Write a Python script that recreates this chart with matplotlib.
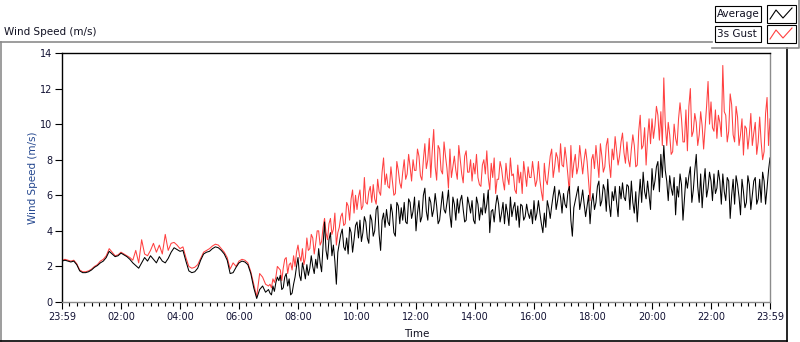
import matplotlib
matplotlib.use('Agg')
import matplotlib.pyplot as plt
from matplotlib.ticker import MultipleLocator

# hours since 23:59, sampled every 6 minutes
hours = [i / 10 for i in range(241)]

average = [
    2.3, 2.35, 2.3, 2.25, 2.3, 2.1, 1.75, 1.65, 1.65, 1.7,
    1.8, 1.95, 2.05, 2.2, 2.3, 2.5, 2.85, 2.7, 2.55, 2.6,
    2.75, 2.65, 2.55, 2.4, 2.2, 2.05, 1.9, 2.2, 2.5, 2.3,
    2.6, 2.4, 2.2, 2.55, 2.3, 2.2, 2.45, 2.8, 3.05, 2.95,
    2.85, 2.9, 2.3, 1.75, 1.65, 1.7, 1.9, 2.35, 2.7, 2.8,
    2.85, 3.0, 3.1, 3.05, 2.9, 2.7, 2.35, 1.6, 1.65, 1.95,
    2.2, 2.3, 2.25, 2.1, 1.6, 0.8, 0.2, 0.7, 0.9, 0.55,
    0.7, 0.4, 0.6, 1.4, 1.5, 0.8, 1.6, 1.3, 0.5, 1.4,
    2.5, 1.2, 1.8, 2.1, 1.9, 2.0, 2.4, 3.0, 1.7, 4.5,
    2.4, 3.9, 3.2, 1.0, 3.3, 4.1, 2.9, 2.7, 3.9, 3.5,
    4.5, 4.6, 3.9, 4.5, 3.3, 4.6, 4.0, 5.4, 2.9, 5.0,
    5.2, 4.3, 5.0, 3.7, 5.4, 5.3, 5.6, 4.4, 5.6, 5.1,
    4.0, 5.7, 4.8, 6.4, 4.6, 5.6, 5.2, 5.4, 4.6, 6.2,
    5.0, 6.3, 4.2, 5.5, 5.8, 5.7, 5.2, 4.6, 5.5, 5.7,
    4.4, 5.5, 5.3, 6.1, 5.5, 3.9, 5.2, 5.4, 5.5, 5.0,
    4.4, 5.0, 5.9, 5.3, 4.6, 4.2, 5.4, 4.8, 5.0, 5.2,
    5.7, 5.0, 5.0, 3.9, 4.2, 5.3, 5.4, 6.5, 5.7, 5.9,
    6.1, 5.3, 6.5, 3.7, 5.7, 6.5, 5.7, 5.5, 5.4, 4.4,
    6.1, 5.6, 6.8, 5.7, 6.3, 6.9, 4.8, 5.7, 5.6, 6.5,
    6.7, 5.7, 6.5, 6.8, 5.0, 4.5, 6.9, 7.3, 5.8, 6.0,
    7.5, 6.8, 7.9, 8.3, 8.8, 6.8, 7.1, 6.0, 4.9, 5.9,
    6.6, 5.8, 6.4, 7.6, 6.3, 8.3, 5.6, 5.3, 7.5, 6.4,
    6.8, 7.2, 6.4, 6.8, 7.2, 5.7, 6.8, 6.0, 5.5, 6.6,
    4.9, 6.2, 5.6, 6.6, 6.0, 7.0, 5.8, 5.6, 6.8, 6.4,
    8.1,
]

gust = [
    2.35, 2.4, 2.35, 2.3, 2.35, 2.15, 1.8, 1.7, 1.7, 1.75,
    1.85, 2.0, 2.1, 2.3, 2.4, 2.6, 3.0, 2.8, 2.6, 2.65,
    2.8, 2.7, 2.6, 2.5, 2.35, 2.9, 2.2, 3.5, 2.7, 2.6,
    2.9, 3.3, 2.8, 3.2, 2.7, 3.8, 2.9, 3.3, 3.35, 3.2,
    3.0, 3.1, 2.5, 2.0, 1.9, 1.95, 2.1, 2.45, 2.8, 2.9,
    3.0, 3.15, 3.25, 3.2, 3.0, 2.8, 2.5, 1.85, 2.2, 2.0,
    2.3, 2.4, 2.35, 2.2, 1.7, 1.0, 0.3, 1.6, 1.4, 1.0,
    0.9, 0.8, 1.1, 2.0, 1.8, 1.9, 2.5, 2.1, 1.8, 2.0,
    3.2, 2.3, 2.1, 3.6, 3.0, 3.6, 3.3, 4.0, 3.4, 4.7,
    3.5, 4.7, 4.1, 3.2, 4.2, 5.0, 4.4, 5.4, 5.8, 5.0,
    5.2, 6.3, 5.4, 5.6, 6.2, 5.6, 5.8, 6.9, 6.0, 8.1,
    7.2, 6.4, 6.8, 6.1, 7.4, 6.4, 8.0, 7.2, 7.6, 8.0,
    7.4, 8.2, 6.85, 8.9, 8.0, 7.0, 9.7, 6.85, 8.6, 7.2,
    8.2, 6.4, 7.0, 8.2, 6.9, 8.0, 6.7, 8.5, 7.3, 6.8,
    7.2, 7.0, 6.5, 8.0, 8.5, 6.3, 7.0, 6.1, 6.9, 7.5,
    6.3, 7.0, 8.1, 7.2, 6.1, 6.7, 6.1, 7.2, 7.6, 7.0,
    7.2, 6.85, 6.85, 5.7, 6.85, 7.4, 8.6, 7.6, 8.1, 8.9,
    7.6, 8.0, 6.1, 7.0, 8.3, 7.6, 8.0, 8.0, 7.9, 5.7,
    8.3, 8.8, 7.0, 8.2, 7.6, 9.2, 7.0, 8.0, 8.5, 8.2,
    9.5, 7.8, 8.0, 8.6, 8.8, 7.7, 10.5, 8.8, 7.7, 10.3,
    10.3, 9.9, 10.5, 10.7, 12.6, 8.8, 9.4, 8.45, 9.2, 10.3,
    10.3, 9.0, 8.5, 12.0, 9.6, 10.1, 9.4, 9.9, 9.8, 12.4,
    11.25, 9.6, 9.2, 10.1, 13.3, 10.5, 9.6, 11.1, 9.0, 10.4,
    9.4, 8.26, 9.75, 9.4, 8.8, 10.1, 9.0, 9.0, 8.45, 11.5,
    10.3,
]

# extra readings between the 6-minute samples in the gusty part (07:05 .. 23:55)
mid_hours = [7.05 + i / 10 for i in range(170)]

average_mid = [
    0.5, 0.9, 1.1, 1.2, 0.7, 1.4, 0.9, 0.4, 1.0, 2.0,
    1.5, 2.2, 1.3, 1.5, 2.6, 1.6, 1.9, 2.2, 3.2, 2.9,
    3.5, 2.6, 2.3, 2.8, 3.8, 3.1, 3.6, 4.2, 2.8, 4.3,
    3.6, 3.4, 4.8, 3.6, 4.9, 3.7, 5.2, 3.8, 4.6, 4.2,
    4.5, 5.5, 3.9, 5.6, 4.4, 4.6, 4.5, 5.8, 4.7, 5.9,
    5.0, 4.5, 6.0, 5.1, 5.9, 4.8, 6.1, 4.4, 5.4, 5.2,
    5.6, 4.9, 5.9, 4.6, 5.0, 6.0, 4.5, 5.9, 5.0, 4.6,
    5.9, 4.6, 4.9, 5.0, 6.3, 5.1, 4.5, 6.0, 4.5, 5.6,
    5.5, 4.3, 4.8, 5.6, 5.4, 5.5, 4.6, 5.5, 4.7, 4.4,
    4.6, 5.7, 4.4, 5.0, 5.7, 4.7, 6.0, 5.2, 6.3, 5.0,
    5.5, 6.2, 4.6, 5.3, 6.1, 5.2, 6.3, 4.8, 6.0, 5.6,
    5.2, 6.5, 5.4, 6.6, 5.1, 5.5, 6.2, 6.5, 4.8, 5.8,
    5.9, 6.6, 5.2, 5.6, 6.2, 5.8, 5.6, 6.2, 6.8, 5.2,
    6.3, 7.6, 6.2, 7.0, 7.4, 5.7, 6.4, 7.0, 6.5, 7.2,
    4.6, 7.0, 7.1, 5.6, 7.4, 6.5, 7.2, 6.6, 5.9, 7.3,
    5.7, 6.1, 7.4, 5.5, 6.2, 7.0, 4.7, 6.9, 7.1, 5.9,
    6.9, 5.3, 7.1, 5.2, 6.8, 5.5, 6.9, 7.3, 5.5, 7.4,
]

gust_mid = [
    1.0, 1.3, 1.4, 1.9, 1.2, 2.4, 1.6, 2.2, 2.6, 2.8,
    2.6, 3.0, 2.5, 2.9, 3.8, 2.7, 4.0, 3.2, 4.2, 3.9,
    4.4, 3.8, 5.0, 3.9, 4.8, 4.3, 5.6, 4.6, 6.3, 6.0,
    5.9, 5.2, 7.0, 5.5, 6.5, 6.6, 5.5, 6.2, 7.3, 6.6,
    6.5, 7.6, 6.0, 7.9, 6.7, 7.3, 6.9, 8.3, 6.8, 7.4,
    8.6, 7.1, 8.0, 7.5, 9.2, 8.5, 7.6, 8.8, 7.4, 9.0,
    7.5, 8.6, 7.6, 7.4, 8.8, 7.2, 8.2, 7.3, 8.0, 7.8,
    8.3, 6.6, 7.7, 7.2, 7.0, 7.8, 8.1, 6.9, 7.9, 6.8,
    7.8, 6.6, 7.1, 6.3, 7.7, 7.3, 7.9, 6.5, 7.0, 7.9,
    6.5, 7.9, 6.2, 7.8, 6.6, 8.2, 7.0, 8.4, 7.3, 7.7,
    8.7, 7.1, 8.8, 7.8, 7.2, 8.8, 7.2, 8.6, 6.8, 8.0,
    7.5, 7.9, 8.9, 7.3, 8.8, 7.8, 8.6, 9.3, 7.7, 9.0,
    8.4, 9.0, 7.6, 9.4, 7.6, 9.6, 8.6, 9.8, 9.2, 8.9,
    9.2, 11.0, 9.1, 8.8, 10.0, 10.1, 8.3, 10.0, 8.8, 11.2,
    9.0, 10.8, 11.0, 9.3, 10.6, 8.8, 10.7, 8.6, 11.0, 10.0,
    9.8, 10.8, 10.5, 9.3, 10.7, 9.0, 11.7, 9.4, 11.0, 8.8,
    10.3, 9.9, 8.6, 10.6, 9.5, 8.3, 10.4, 8.0, 10.6, 8.8,
]

tick_hours = [0, 2, 4, 6, 8, 10, 12, 14, 16, 18, 20, 22, 24]
tick_labels = ['23:59', '02:00', '04:00', '06:00', '08:00', '10:00', '12:00',
               '14:00', '16:00', '18:00', '20:00', '22:00', '23:59']

# merge the regular samples with the in-between readings
avg_pts = sorted(zip(hours + mid_hours, average + average_mid))
gust_pts = sorted(zip(hours + mid_hours, gust + gust_mid))
t_all = [p[0] for p in avg_pts]
avg_all = [p[1] for p in avg_pts]
gust_all = [p[1] for p in gust_pts]

W, H = 800, 342
fig = plt.figure(figsize=(8, 3.42), dpi=100)

# pixel overlay for the panel frame, title and legend
ov = fig.add_axes([0, 0, 1, 1])
ov.set_xlim(0, W)
ov.set_ylim(H, 0)
ov.axis('off')
ov.plot([0, 712], [42, 42], color='#8c8c8c', lw=1.2)
ov.plot([1, 1], [42, 341], color='#8c8c8c', lw=1.2)
ov.plot([0, 787], [341, 341], color='black', lw=1.2)
ov.plot([787, 787], [48, 341], color='black', lw=1.2)
ov.text(4, 32, 'Wind Speed (m/s)', fontsize=7.5, va='center', ha='left', color='#111122')

# legend panel
ov.plot([712, 799, 799], [48, 48, 0], color='#8c8c8c', lw=1.2)
rows = [('Average', 'black', 14), ('3s Gust', '#ff4040', 34)]
for name, col, yc in rows:
    ov.add_patch(plt.Rectangle((715, yc - 8), 46, 16, fc='white', ec='black', lw=0.8))
    ov.text(717, yc, name, fontsize=7.5, va='center', ha='left', color='#111122')
    ov.add_patch(plt.Rectangle((767, yc - 9), 29, 18, fc='white', ec='black', lw=0.8))
    ov.plot([770, 776, 783, 792], [yc + 5, yc - 4, yc + 4, yc - 6], color=col, lw=0.8)

ax = fig.add_axes([62 / W, 1 - 302 / H, 708 / W, 249 / H])
ax.plot(t_all, gust_all, color='#ff4040', lw=0.75)
ax.plot(t_all, avg_all, color='black', lw=0.75)
ax.set_xlim(0, 24)
ax.set_ylim(0, 14)

ax.spines['top'].set_color('black')
ax.spines['left'].set_color('black')
ax.spines['bottom'].set_color('#8c8c8c')
ax.spines['right'].set_color('#8c8c8c')
for s in ax.spines.values():
    s.set_linewidth(1.0)

ax.set_yticks(range(0, 15, 2))
ax.set_xticks(tick_hours)
ax.set_xticklabels(tick_labels)
ax.xaxis.set_minor_locator(MultipleLocator(0.25))
ax.tick_params(axis='both', which='major', labelsize=7, length=5, width=0.8,
               color='black', labelcolor='#111133', pad=2)
ax.tick_params(axis='x', which='minor', length=3, width=0.8, color='black')

ax.set_xlabel('Time', fontsize=7.5, color='#111122', va='center')
ax.xaxis.set_label_coords((417 - 62) / 708, -(334 - 302) / 249)
ax.set_ylabel('Wind Speed (m/s)', fontsize=7.5, color='#24478f', va='center')
ax.yaxis.set_label_coords((33 - 62) / 708, 0.5)

fig.savefig('out.png', dpi=100)
